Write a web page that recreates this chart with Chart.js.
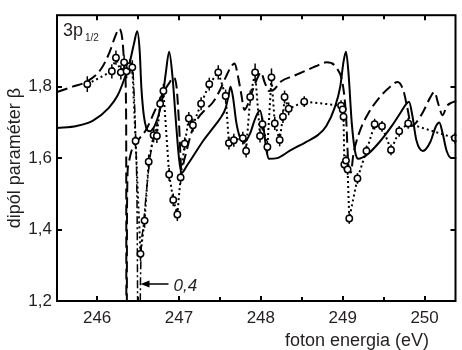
<!DOCTYPE html>
<html>
<head>
<meta charset="utf-8">
<script src="https://cdn.jsdelivr.net/npm/chart.js@4.4.1/dist/chart.umd.min.js"></script>
<style>
    body { margin: 0; background: #fff; }
</style>
</head>
<body>
<canvas id="canvas" width="462" height="350"></canvas>
<script>
// theory 1 (solid)
var solidLine = [
    [245.51, 1.684], [245.75, 1.69], [245.95, 1.705], [246.14, 1.74], [246.25, 1.775], [246.33, 1.82],
    [246.40, 1.87], [246.45, 1.92], [246.49, 1.955], [246.52, 1.90], [246.54, 1.80], [246.57, 1.72],
    [246.60, 1.685], [246.64, 1.675], [246.69, 1.685], [246.75, 1.72], [246.80, 1.77], [246.84, 1.84],
    [246.88, 1.898], [246.92, 1.83], [246.96, 1.71], [247.00, 1.60], [247.03, 1.558], [247.10, 1.58],
    [247.20, 1.615], [247.30, 1.65], [247.40, 1.68], [247.50, 1.71], [247.57, 1.74], [247.61, 1.78],
    [247.63, 1.80], [247.66, 1.77], [247.70, 1.70], [247.75, 1.655], [247.80, 1.645], [247.87, 1.67],
    [247.93, 1.71], [247.99, 1.733], [248.03, 1.69], [248.07, 1.62], [248.10, 1.598], [248.20, 1.60],
    [248.35, 1.62], [248.55, 1.645], [248.70, 1.665], [248.80, 1.69], [248.90, 1.74], [248.97, 1.80],
    [249.01, 1.87], [249.04, 1.898], [249.07, 1.84], [249.11, 1.70], [249.15, 1.62], [249.19, 1.598],
    [249.30, 1.61], [249.45, 1.645], [249.60, 1.69], [249.70, 1.725], [249.77, 1.75], [249.81, 1.758],
    [249.85, 1.72], [249.90, 1.65], [249.98, 1.62], [250.07, 1.645], [250.14, 1.69], [250.18, 1.70],
    [250.22, 1.67], [250.27, 1.62], [250.33, 1.60], [250.39, 1.60]
];
// theory 2 (dashed)
var dashLine = [
    [245.51, 1.785], [245.70, 1.80], [245.88, 1.815], [246.05, 1.85], [246.15, 1.895], [246.22, 1.94],
    [246.27, 1.962], [246.31, 1.93], [246.34, 1.84], [246.355, 1.70], [246.36, 0.3], [246.365, 1.45],
    [246.38, 1.58], [246.42, 1.62], [246.50, 1.65], [246.60, 1.68], [246.70, 1.73], [246.80, 1.78],
    [246.88, 1.81], [246.93, 1.825], [246.97, 1.80], [247.00, 1.70], [247.03, 1.57], [247.07, 1.60],
    [247.15, 1.67], [247.23, 1.711], [247.32, 1.735], [247.41, 1.755], [247.50, 1.79], [247.57, 1.826],
    [247.64, 1.857], [247.68, 1.865], [247.72, 1.83], [247.76, 1.78], [247.80, 1.735], [247.84, 1.75],
    [247.90, 1.79], [247.97, 1.83], [248.00, 1.84], [248.05, 1.81], [248.10, 1.788], [248.15, 1.79],
    [248.25, 1.815], [248.40, 1.83], [248.55, 1.845], [248.67, 1.857], [248.80, 1.868], [248.92, 1.854],
    [249.00, 1.807], [249.04, 1.72], [249.07, 1.58], [249.10, 1.56], [249.13, 1.61], [249.20, 1.67],
    [249.30, 1.72], [249.45, 1.77], [249.58, 1.80], [249.67, 1.813], [249.74, 1.79], [249.79, 1.74],
    [249.84, 1.69], [249.90, 1.70], [249.99, 1.733], [250.07, 1.77], [250.12, 1.785], [250.17, 1.75],
    [250.22, 1.72], [250.27, 1.745], [250.33, 1.755], [250.39, 1.76]
];
// theory 3 (dash-dot), only near the 246.5 resonance
var dashDotLine = [
    [246.44, 1.84], [246.47, 1.66], [246.49, 1.40], [246.51, 0.4], [246.53, 1.26], [246.56, 1.40],
    [246.60, 1.50], [246.64, 1.59], [246.69, 1.66], [246.74, 1.70]
];
// experiment: energy, beta, error
var expPoints = [
    [245.88, 1.807, 0.022], [246.18, 1.843, 0.02], [246.23, 1.881, 0.02], [246.29, 1.84, 0.02],
    [246.33, 1.868, 0.02], [246.36, 1.843, 0.02], [246.40, 1.857, 0.02], [246.43, 1.854, 0.02],
    [246.47, 1.648, 0.02], [246.53, 1.332, 0.02], [246.58, 1.425, 0.02], [246.63, 1.59, 0.02],
    [246.69, 1.664, 0.02], [246.73, 1.662, 0.02], [246.77, 1.752, 0.02], [246.81, 1.788, 0.02],
    [246.88, 1.554, 0.018], [246.93, 1.483, 0.018], [246.98, 1.442, 0.018], [247.02, 1.546, 0.018],
    [247.07, 1.64, 0.018], [247.12, 1.711, 0.018], [247.17, 1.692, 0.018], [247.27, 1.752, 0.018],
    [247.37, 1.807, 0.018], [247.48, 1.84, 0.02], [247.57, 1.774, 0.018], [247.61, 1.642, 0.018],
    [247.67, 1.65, 0.018], [247.78, 1.656, 0.018], [247.82, 1.62, 0.018], [247.87, 1.771, 0.018],
    [247.93, 1.84, 0.025], [247.99, 1.662, 0.018], [248.02, 1.695, 0.018], [248.08, 1.631, 0.018],
    [248.13, 1.826, 0.025], [248.17, 1.697, 0.018], [248.23, 1.651, 0.018], [248.27, 1.716, 0.018],
    [248.29, 1.771, 0.018], [248.34, 1.738, 0.018], [248.53, 1.758, 0.015], [248.98, 1.747, 0.015],
    [249.00, 1.736, 0.015], [249.01, 1.716, 0.015], [249.02, 1.582, 0.015], [249.04, 1.593, 0.015],
    [249.06, 1.568, 0.015], [249.08, 1.431, 0.015], [249.18, 1.543, 0.015], [249.29, 1.62, 0.015],
    [249.39, 1.695, 0.015], [249.48, 1.689, 0.015], [249.59, 1.623, 0.015], [249.69, 1.675, 0.015],
    [249.80, 1.697, 0.015], [250.37, 1.656, 0.015]
];

var xTicks = [246, 247, 248, 249, 250];
var yTicks = [1.2, 1.4, 1.6, 1.8];
var xRange = [245.51, 250.39], yRange = [1.2, 2.0];
var arrowTip = [246.53, 1.247], arrowText = '0,4';

var FONT = '"Liberation Sans", Arial, sans-serif';
var TXT = '#231f20';

function toXY(arr) {
    return arr.map(function (p) { return { x: p[0], y: p[1] }; });
}

// inward ticks, frame, labels, arrow
var frame = {
    id: 'frame',
    beforeDatasetDraw: function (chart, args) {
        if (args.index !== 3) return;
        var c = chart.ctx, xs = chart.scales.x, ys = chart.scales.y;
        c.save();
        c.strokeStyle = '#000';
        c.lineWidth = 1.5;
        expPoints.forEach(function (p) {
            var px = xs.getPixelForValue(p[0]);
            c.beginPath();
            c.moveTo(px, ys.getPixelForValue(p[1] - p[2]));
            c.lineTo(px, ys.getPixelForValue(p[1] + p[2]));
            c.stroke();
        });
        c.restore();
    },
    afterDraw: function (chart) {
        var c = chart.ctx, a = chart.chartArea, xs = chart.scales.x, ys = chart.scales.y;
        var L = a.left, R = a.right - 1, T = a.top, B = a.bottom;
        c.save();
        c.strokeStyle = '#000';
        c.lineWidth = 2;
        c.strokeRect(L, T, R - L, B - T);
        // x ticks every 0.5
        for (var v = 246; v <= xRange[1]; v += 0.5) {
            var px = Math.round(xs.getPixelForValue(v));
            var len = (v % 1 === 0) ? 5 : 4;
            c.beginPath();
            c.moveTo(px, B); c.lineTo(px, B - len);
            c.moveTo(px, T); c.lineTo(px, T + len);
            c.stroke();
        }
        yTicks.forEach(function (t) {
            var py = Math.round(ys.getPixelForValue(t));
            c.beginPath();
            c.moveTo(L, py); c.lineTo(L + 5, py);
            c.moveTo(R, py); c.lineTo(R - 5, py);
            c.stroke();
        });

        c.fillStyle = TXT;
        // 3p1/2
        c.font = '18px ' + FONT;
        c.textAlign = 'left';
        c.textBaseline = 'alphabetic';
        c.fillText('3p', 63, 36);
        c.font = '10px ' + FONT;
        c.fillText('1/2', 85, 41);

        // axis titles
        c.font = '18px ' + FONT;
        c.fillText('foton energia (eV)', 285, 346);
        c.save();
        c.translate(20, (T + B) / 2);
        c.rotate(-Math.PI / 2);
        c.textAlign = 'center';
        c.fillText('dipól paraméter β', 0, 0);
        c.restore();

        // arrow to the off-scale minimum
        var tx = xs.getPixelForValue(arrowTip[0]), ty = Math.round(ys.getPixelForValue(arrowTip[1]));
        c.fillStyle = '#000';
        c.lineWidth = 1.5;
        c.beginPath();
        c.moveTo(tx + 6, ty); c.lineTo(tx + 28, ty);
        c.stroke();
        c.beginPath();
        c.moveTo(tx, ty); c.lineTo(tx + 9, ty - 3.5); c.lineTo(tx + 9, ty + 3.5); c.closePath();
        c.fill();
        c.fillStyle = TXT;
        c.font = 'italic 17px ' + FONT;
        c.fillText(arrowText, tx + 33, ty + 7);
        c.restore();
    }
};

var ctx = document.getElementById('canvas');
var myChart = new Chart(ctx, {
    type: 'line',
    data: {
        datasets: [
            {
                label: 'theory 1',
                data: toXY(solidLine),
                borderColor: '#000',
                borderWidth: 2,
                pointRadius: 0,
                cubicInterpolationMode: 'monotone',
                order: 2
            },
            {
                label: 'theory 2',
                data: toXY(dashLine),
                borderColor: '#000',
                borderWidth: 2,
                borderDash: [11, 5],
                pointRadius: 0,
                cubicInterpolationMode: 'monotone',
                order: 2
            },
            {
                label: 'theory 3',
                data: toXY(dashDotLine),
                borderColor: '#000',
                borderWidth: 1.5,
                borderDash: [8, 3, 2, 3],
                pointRadius: 0,
                cubicInterpolationMode: 'monotone',
                order: 1
            },
            {
                label: 'experiment',
                data: toXY(expPoints),
                borderColor: '#000',
                borderWidth: 2,
                borderDash: [2, 3],
                tension: 0,
                pointRadius: 3.2,
                pointBorderWidth: 1.5,
                pointBackgroundColor: '#fff',
                pointBorderColor: '#000',
                order: 0
            }
        ]
    },
    options: {
        responsive: false,
        animation: false,
        layout: { padding: { top: 10, right: 0, left: 0, bottom: 0 } },
        plugins: { legend: { display: false }, tooltip: { enabled: false } },
        scales: {
            x: {
                type: 'linear',
                min: xRange[0],
                max: xRange[1],
                grid: { display: false, drawTicks: false },
                border: { display: false },
                afterFit: function (s) { s.height = 49; },
                afterBuildTicks: function (s) {
                    s.ticks = xTicks.map(function (v) { return { value: v }; });
                },
                ticks: {
                    padding: 7,
                    maxRotation: 0,
                    autoSkip: false,
                    color: TXT,
                    font: { family: FONT, size: 17 },
                    callback: function (v) { return String(v); }
                }
            },
            y: {
                min: yRange[0],
                max: yRange[1],
                grid: { display: false, drawTicks: false },
                border: { display: false },
                afterFit: function (s) { s.width = 57; },
                afterBuildTicks: function (s) {
                    s.ticks = yTicks.map(function (v) { return { value: v }; });
                },
                ticks: {
                    padding: 5,
                    color: TXT,
                    font: { family: FONT, size: 17 },
                    callback: function (v) { return v.toFixed(1).replace('.', ','); }
                }
            }
        }
    },
    plugins: [frame]
});
</script>
</body>
</html>
